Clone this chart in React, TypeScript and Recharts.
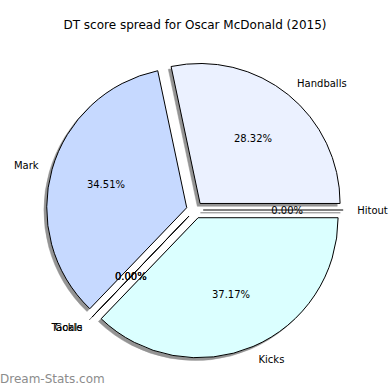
import React from 'react';
import { PieChart, Pie, Sector } from 'recharts';

const categories = ['Handballs', 'Mark', 'Tackle', 'Goals', 'Kicks', 'Hitout'];
const scores = [32, 39, 0, 0, 42, 0];
const sliceColors = ['#ebf1ff', '#c6d9ff', '#ffe0e0', '#e0ffe0', '#dbffff', '#fff0d0'];

const data = categories.map((name, i) => ({ name, value: scores[i], fill: sliceColors[i] }));

const CX = 194.8;
const CY = 210;
const R = 140;
const EXPLODE = 8.4;
const SHADOW = 2.8;
const RAD = Math.PI / 180;
const FONT = '"DejaVu Sans", sans-serif';

const makeShape = (isShadow: boolean) => (props: any) => {
  const { cx, cy, outerRadius, startAngle, endAngle, fill } = props;
  const mid = (startAngle + endAngle) / 2;
  const dx = EXPLODE * Math.cos(mid * RAD) + (isShadow ? -SHADOW : 0);
  const dy = -EXPLODE * Math.sin(mid * RAD) + (isShadow ? SHADOW : 0);
  const x0 = cx + dx;
  const y0 = cy + dy;
  if (Math.abs(endAngle - startAngle) < 1e-6) {
    const x1 = x0 + outerRadius * Math.cos(startAngle * RAD);
    const y1 = y0 - outerRadius * Math.sin(startAngle * RAD);
    return (
      <line x1={x0} y1={y0} x2={x1} y2={y1} stroke={isShadow ? '#808080' : '#000'} strokeWidth={1} />
    );
  }
  return (
    <Sector
      cx={x0}
      cy={y0}
      innerRadius={0}
      outerRadius={outerRadius}
      startAngle={startAngle}
      endAngle={endAngle}
      fill={isShadow ? '#949494' : fill}
      stroke={isShadow ? '#949494' : '#000'}
      strokeWidth={isShadow ? 0.5 : 1}
    />
  );
};

const shadowShape = makeShape(true);
const mainShape = makeShape(false);

const renderLabel = (p: any) => {
  const { cx, cy, startAngle, endAngle, outerRadius, percent, index } = p;
  const mid = ((startAngle + endAngle) / 2) * RAD;
  const c = Math.cos(mid);
  const s = Math.sin(mid);
  const ex = cx + EXPLODE * c;
  const ey = cy - EXPLODE * s;
  const nx = ex + 1.1 * outerRadius * c;
  const ny = ey - 1.1 * outerRadius * s;
  const px = ex + 0.6 * outerRadius * c;
  const py = ey - 0.6 * outerRadius * s;
  return (
    <g key={`lbl-${index}`}>
      <text x={nx} y={ny} dy="0.35em" textAnchor={c >= 0 ? 'start' : 'end'} fontFamily={FONT} fontSize={10} fill="#000">
        {categories[index]}
      </text>
      <text x={px} y={py} dy="0.35em" textAnchor="middle" fontFamily={FONT} fontSize={10} fill="#000">
        {`${(percent * 100).toFixed(2)}%`}
      </text>
    </g>
  );
};

export default function App() {
  return (
    <div style={{ position: 'absolute', left: 0, top: 0, width: 390, height: 390, background: '#fff' }}>
      <PieChart width={390} height={390} margin={{ top: 0, right: 0, bottom: 0, left: 0 }}>
        <Pie
          data={data}
          dataKey="value"
          nameKey="name"
          cx={CX}
          cy={CY}
          innerRadius={0}
          outerRadius={R}
          startAngle={0}
          endAngle={360}
          isAnimationActive={false}
          label={false}
          labelLine={false}
          shape={shadowShape}
          activeShape={shadowShape}
          inactiveShape={shadowShape}
        />
        <Pie
          data={data}
          dataKey="value"
          nameKey="name"
          cx={CX}
          cy={CY}
          innerRadius={0}
          outerRadius={R}
          startAngle={0}
          endAngle={360}
          isAnimationActive={false}
          label={renderLabel}
          labelLine={false}
          shape={mainShape}
          activeShape={mainShape}
          inactiveShape={mainShape}
        />
      </PieChart>
      <div
        style={{
          position: 'absolute',
          left: 0,
          top: 18,
          width: 390,
          textAlign: 'center',
          fontFamily: FONT,
          fontSize: 12,
          lineHeight: '14px',
          color: '#000',
        }}
      >
        DT score spread for Oscar McDonald (2015)
      </div>
      <div
        style={{
          position: 'absolute',
          left: 0,
          top: 372,
          fontFamily: FONT,
          fontSize: 12,
          lineHeight: '14px',
          color: '#8c8c8c',
        }}
      >
        Dream-Stats.com
      </div>
    </div>
  );
}
